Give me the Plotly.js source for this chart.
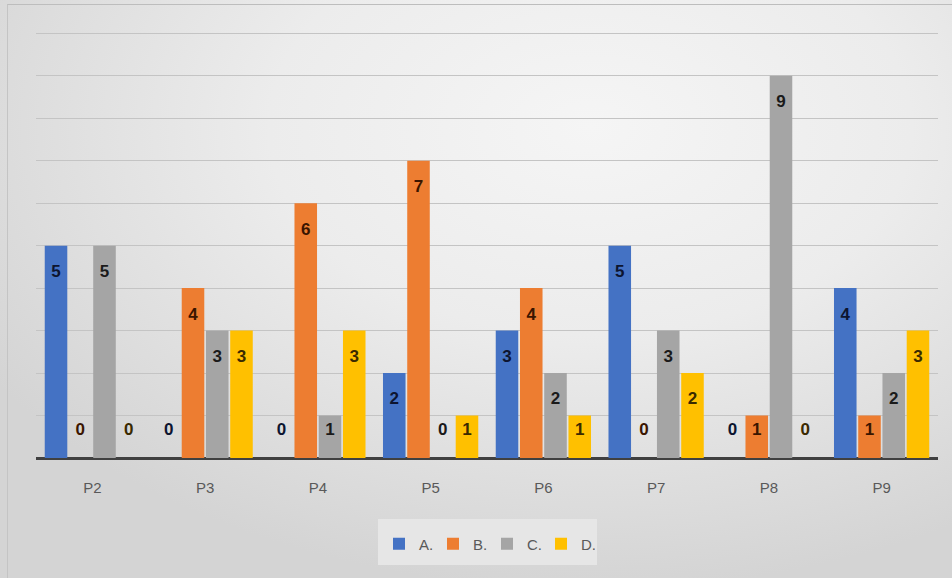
<!DOCTYPE html>
<html>
<head>
<meta charset="utf-8">
<script src="https://cdn.plot.ly/plotly-3.0.1.min.js"></script>
<style>
  html, body { margin: 0; padding: 0; }
  body {
    width: 952px; height: 578px; overflow: hidden;
    background: radial-gradient(ellipse 75% 80% at 62% 22%, #f5f5f5 0%, #ececec 45%, #d4d4d4 100%);
  }
  #frame {
    position: absolute; left: 7px; top: 4px; width: 945px; height: 574px;
    border-top: 1px solid #bdbdbd; border-left: 1px solid #c4c4c4; box-sizing: border-box;
  }
  #chart { position: absolute; left: 0; top: 0; width: 952px; height: 578px; }
</style>
</head>
<body>
<div id="frame"></div>
<div id="chart"></div>
<script>
// ---- data ----
const categories = ["P2", "P3", "P4", "P5", "P6", "P7", "P8", "P9"];
const seriesNames = ["A.", "B.", "C.", "D."];
const valuesA = [5, 0, 0, 2, 3, 5, 0, 4];
const valuesB = [0, 4, 6, 7, 4, 0, 1, 1];
const valuesC = [5, 3, 1, 0, 2, 3, 9, 2];
const valuesD = [0, 3, 3, 1, 1, 2, 0, 3];

// ---- styles ----
const colors = ["#4472C4", "#ED7D31", "#A5A5A5", "#FFC000"];
const labelColors = ["#0d1530", "#3a1500", "#1a1a1a", "#3a2a00"];
const allValues = [valuesA, valuesB, valuesC, valuesD];
const BARGAP = 0.14, GROUPGAP = 0.07;

const xIdx = categories.map((_, i) => i);
const traces = [];
allValues.forEach((vals, k) => {
  traces.push({
    type: "bar", name: seriesNames[k], x: xIdx, y: vals,
    marker: { color: colors[k], line: { width: 0 } },
    hoverinfo: "y"
  });
});
// labels ("inside end" style), positioned from the data through the axes
const slot = (1 - BARGAP) / seriesNames.length;
allValues.forEach((vals, k) => {
  const off = -(1 - BARGAP) / 2 + (k + 0.5) * slot;
  traces.push({
    type: "scatter", mode: "text", showlegend: false, hoverinfo: "skip",
    x: xIdx.map(i => i + off),
    y: vals.map(v => Math.max(v - 0.64, 0.64)),
    text: vals.map(String),
    textposition: "middle center",
    textfont: { family: "Liberation Sans, Arial, sans-serif", size: 17, color: labelColors[k], weight: "bold" },
    cliponaxis: false
  });
});

const layout = {
  width: 952, height: 578,
  paper_bgcolor: "rgba(0,0,0,0)", plot_bgcolor: "rgba(0,0,0,0)",
  margin: { l: 36, r: 14, t: 32, b: 120 },
  barmode: "group", bargap: BARGAP, bargroupgap: GROUPGAP,
  font: { family: "Liberation Sans, Arial, sans-serif", color: "#595959" },
  xaxis: {
    range: [-0.5, categories.length - 0.5],
    tickmode: "array", tickvals: xIdx, ticktext: categories,
    tickfont: { size: 15, color: "#595959" },
    ticklabelstandoff: 19,
    showgrid: false, zeroline: false, ticks: "",
    showline: false, fixedrange: true
  },
  yaxis: {
    range: [0, 10.03], dtick: 1, showticklabels: false,
    showgrid: true, gridcolor: "#c4c4c4", gridwidth: 1,
    zeroline: true, zerolinecolor: "#404040", zerolinewidth: 3,
    showline: false, ticks: "", fixedrange: true
  },
  shapes: [{
    type: "rect", xref: "paper", yref: "paper", layer: "below",
    x0: (378 - 36) / 902, x1: (597 - 36) / 902,
    y0: -(519 - 458) / 426, y1: -(565 - 458) / 426,
    fillcolor: "#e6e6e6", line: { width: 0 }
  }],
  legend: {
    orientation: "h", x: 0.5, xanchor: "center", y: -0.163, yanchor: "top",
    bgcolor: "rgba(0,0,0,0)", borderwidth: 0,
    font: { size: 15, color: "#595959" },
    itemwidth: 30, tracegroupgap: 0,
    entrywidth: 9, entrywidthmode: "pixels"
  },
  showlegend: true
};

Plotly.newPlot("chart", traces, layout, { displayModeBar: false, staticPlot: true });
</script>
</body>
</html>
